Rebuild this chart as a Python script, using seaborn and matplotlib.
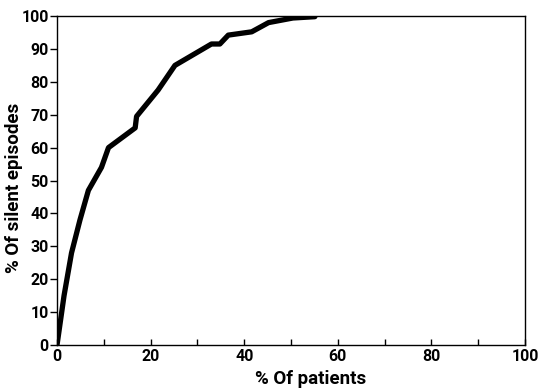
import pandas as pd
import matplotlib.pyplot as plt
import seaborn as sns

# cumulative curve
pct_patients = [0, 0.5, 1.5, 3.1, 4.9, 6.7, 9.5, 11.0, 16.7, 17.0, 21.6, 25.2,
                33.0, 34.8, 36.6, 41.6, 45.2, 50.4, 55.1]
pct_episodes = [0, 5, 15, 28, 38, 47, 54, 60, 66, 69.5, 77.5, 85,
                91.5, 91.5, 94.2, 95.2, 98, 99.4, 99.8]

df = pd.DataFrame({"patients": pct_patients, "episodes": pct_episodes})

sns.set_style("ticks")
plt.rcParams["font.family"] = ["Roboto", "DejaVu Sans"]
plt.rcParams["text.color"] = "black"
plt.rcParams["xtick.color"] = "black"
plt.rcParams["ytick.color"] = "black"

fig = plt.figure(figsize=(5.4, 3.91), dpi=100)
ax = fig.add_axes([0.1056, 0.1176, 0.8666, 0.8414])

sns.lineplot(data=df, x="patients", y="episodes", ax=ax, color="black",
             linewidth=3.8, sort=False, estimator=None)

ax.set_xlim(0, 100)
ax.set_ylim(0, 100)
ax.set_xticks(range(0, 101, 20))
ax.set_xticks(range(10, 100, 20), minor=True)
ax.set_yticks(range(0, 101, 10))
ax.tick_params(axis="x", which="both", direction="in", length=4, width=1,
               labelsize=11.5, pad=3)
ax.tick_params(axis="y", direction="out", length=5, width=1, labelsize=11.5, pad=1)
for lab in ax.get_xticklabels() + ax.get_yticklabels():
    lab.set_fontweight("bold")

for sp in ax.spines.values():
    sp.set_visible(True)
    sp.set_linewidth(1.0)
    sp.set_color("black")

ax.set_xlabel("% Of patients", fontsize=13.5, fontweight="bold", color="black")
ax.set_ylabel("% Of silent episodes", fontsize=13.5, fontweight="bold", color="black")
ax.xaxis.set_label_coords(0.541, -0.075)
ax.yaxis.set_label_coords(-0.073, 0.477)

fig.savefig("out.png", dpi=100)
